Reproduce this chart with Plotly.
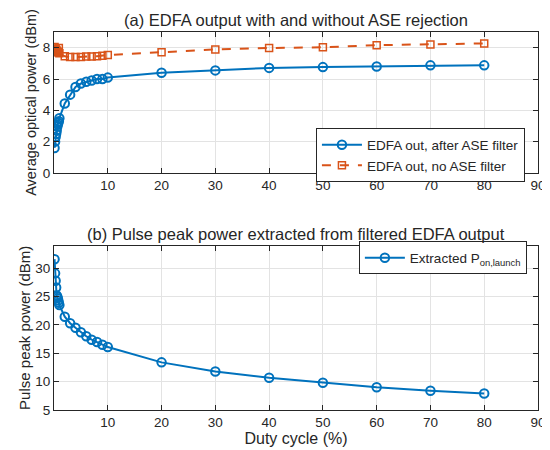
import plotly.graph_objects as go

# duty cycle (%) shared by all series
duty = [0.1, 0.2, 0.3, 0.4, 0.5, 0.6, 0.7, 0.8, 0.9, 1,
        2, 3, 4, 5, 6, 7, 8, 9, 10, 20, 30, 40, 50, 60, 70, 80]

# (a) average optical power (dBm)
avg_filtered = [1.6, 2.0, 2.3, 2.5, 2.7, 2.95, 3.1, 3.2, 3.3, 3.5,
                4.44, 5.0, 5.49, 5.71, 5.82, 5.9, 6.0, 6.0, 6.09,
                6.4, 6.55, 6.71, 6.76, 6.8, 6.87, 6.87]
avg_no_filter = [8.05, 7.95, 7.9, 7.85, 7.8, 7.75, 7.72, 7.7, 7.98, 7.64,
                 7.45, 7.4, 7.4, 7.4, 7.43, 7.44, 7.45, 7.49, 7.53,
                 7.71, 7.89, 7.98, 8.02, 8.16, 8.2, 8.27]

# (b) extracted pulse peak power (dBm)
peak_power = [31.6, 29.1, 27.8, 26.6, 25.2, 25.0, 24.7, 24.3, 23.9, 23.5,
              21.45, 20.3, 19.5, 18.7, 18.0, 17.4, 17.0, 16.5, 16.1,
              13.4, 11.8, 10.7, 9.8, 9.0, 8.4, 7.9]

BLUE = "#0072BD"
ORANGE = "#D95319"
AXIS = "#262626"
GRID = "#e3e3e3"

fig = go.Figure()

fig.add_trace(go.Scatter(
    x=duty, y=avg_filtered, mode="lines+markers",
    name="EDFA out, after ASE filter",
    line=dict(color=BLUE, width=2),
    marker=dict(symbol="circle-open", size=8.5, color=BLUE, line=dict(width=2)),
    xaxis="x", yaxis="y", legend="legend",
))
fig.add_trace(go.Scatter(
    x=duty, y=avg_no_filter, mode="lines+markers",
    name="EDFA out, no ASE filter",
    line=dict(color=ORANGE, width=2, dash="dash"),
    marker=dict(symbol="square-open", size=7, color=ORANGE, line=dict(width=1.5)),
    xaxis="x", yaxis="y", legend="legend",
))
fig.add_trace(go.Scatter(
    x=duty, y=peak_power, mode="lines+markers",
    name="Extracted P<sub>on,launch</sub>",
    line=dict(color=BLUE, width=2),
    marker=dict(symbol="circle-open", size=8.5, color=BLUE, line=dict(width=2)),
    xaxis="x2", yaxis="y2", legend="legend2",
))

common_ax = dict(
    showline=True, linecolor=AXIS, linewidth=1, mirror="ticks",
    ticks="inside", ticklen=5, tickcolor=AXIS,
    showgrid=True, gridcolor=GRID, gridwidth=1, zeroline=False,
    tickfont=dict(size=13.5, color=AXIS),
)

fig.update_layout(
    width=550, height=450,
    paper_bgcolor="white", plot_bgcolor="white",
    font=dict(family="Liberation Sans, Arial", size=13, color=AXIS),
    margin=dict(l=46, r=16, t=24, b=48),
    xaxis=dict(common_ax, range=[0, 90], tickvals=[10, 20, 30, 40, 50, 60, 70, 80, 90],
               anchor="y", domain=[0, 1]),
    yaxis=dict(common_ax, range=[0, 9], tickvals=[0, 2, 4, 6, 8],
               domain=[0.627, 1], anchor="x",
               title=dict(text="Average optical power (dBm)", font=dict(size=14.5), standoff=2)),
    xaxis2=dict(common_ax, range=[0, 90], tickvals=[10, 20, 30, 40, 50, 60, 70, 80, 90],
                anchor="y2", domain=[0, 1],
                title=dict(text="Duty cycle (%)", font=dict(size=16), standoff=0)),
    yaxis2=dict(common_ax, range=[5, 34], tickvals=[5, 10, 15, 20, 25, 30],
                domain=[0, 0.435], anchor="x2",
                title=dict(text="Pulse peak power (dBm)", font=dict(size=15), standoff=1)),
    legend=dict(x=0.973, y=0.602, xanchor="right", yanchor="bottom",
                bgcolor="white", bordercolor=AXIS, borderwidth=1,
                font=dict(size=13.5), tracegroupgap=0, itemwidth=40),
    legend2=dict(x=0.977, y=0.446, xanchor="right", yanchor="top",
                 bgcolor="white", bordercolor=AXIS, borderwidth=1,
                 font=dict(size=13.5), itemwidth=40),
    annotations=[
        dict(text="(a) EDFA output with and without ASE rejection",
             x=0.5, y=1.0, xref="paper", yref="paper", yanchor="bottom",
             yshift=1, showarrow=False, font=dict(size=16.5)),
        dict(text="(b) Pulse peak power extracted from filtered EDFA output",
             x=0.5, y=0.435, xref="paper", yref="paper", yanchor="bottom",
             yshift=1, showarrow=False, font=dict(size=16.5)),
    ],
)

fig.write_html("out.html")
